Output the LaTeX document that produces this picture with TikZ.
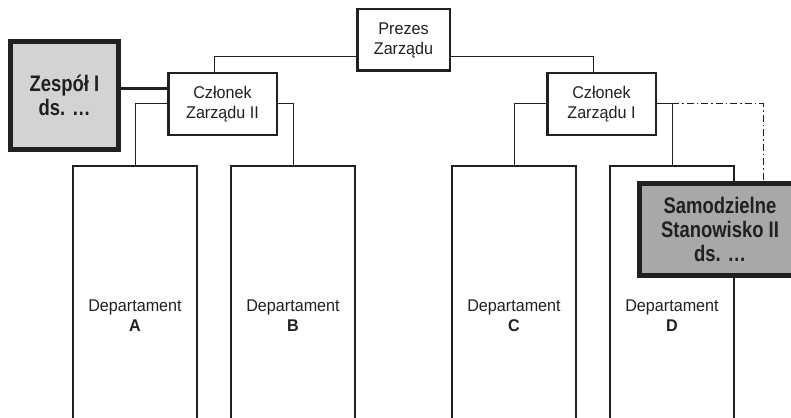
\documentclass[tikz,border=0pt]{standalone}
\usepackage{fontspec}
\setmainfont{Liberation Sans}[FakeStretch=0.95]
\newfontfamily\grubyfont{Liberation Sans}[FakeStretch=0.82]
\usetikzlibrary{calc}

\definecolor{ramka}{HTML}{231F20}
\definecolor{jasny}{HTML}{D3D3D4}
\definecolor{ciemny}{HTML}{A8A8AA}

\begin{document}
\begin{tikzpicture}[x=1pt,y=-1pt,font=\fontsize{17}{20}\selectfont,text=ramka]
\tikzset{
  pole/.style={draw=ramka,line width=2.5pt,align=center,inner sep=0pt,
    minimum width=108.5pt,minimum height=61.5pt},
  dzial/.style={draw=ramka,line width=2pt,align=center,inner sep=0pt,
    minimum width=124pt,minimum height=300pt},
  wyrozniony/.style={draw=ramka,line width=5pt,align=center,inner sep=0pt,
    font=\grubyfont\bfseries\fontsize{22.5}{24}\selectfont},
  linia/.style={draw=ramka,line width=1pt},
  gruba/.style={draw=ramka,line width=3pt},
  kreskakropka/.style={draw=ramka,line width=1pt,
    dash pattern=on 7pt off 3pt on 1.5pt off 3pt}
}

\useasboundingbox (0,0) rectangle (791,417);
\clip (0,0) rectangle (791,417);

% zarzad
\node[pole,minimum width=92.5pt] (prezes) at (403.5,40) {Prezes\\Zarządu};
\node[pole] (cz2) at (222.5,104) {Członek\\Zarządu II};
\node[pole] (cz1) at (601.5,104) {Członek\\Zarządu I};

% departamenty
\node[dzial] (dzA) at (135,316) {Departament\\\textbf{A}};
\node[dzial] (dzB) at (293,316) {Departament\\\textbf{B}};
\node[dzial] (dzC) at (514,316) {Departament\\\textbf{C}};
\node[dzial] (dzD) at (672,316) {Departament\\\textbf{D}};

% polaczenia
\draw[linia] ([yshift=-17pt]prezes.west) -| ([xshift=-8pt]cz2.north);
\draw[linia] ([yshift=-17pt]prezes.east) -| ([xshift=-8pt]cz1.north);
\draw[linia] (cz2.west) -| (dzA.north);
\draw[linia] (cz2.east) -| (dzB.north);
\draw[linia] (cz1.west) -| (dzC.north);
\draw[linia] (cz1.east) -| (dzD.north);

% komorki wyroznione
\node[wyrozniony,fill=jasny,minimum size=108pt] (zespol) at (64.5,95.5)
  {Zespół I\\ds. …};
\node[wyrozniony,fill=ciemny,minimum width=161pt,minimum height=92pt] (samo)
  at (720,229.5) {Samodzielne\\Stanowisko II\\ds. …};

\draw[gruba] ([yshift=15pt]cz2.west) -- ([yshift=15pt]cz2.west -| zespol.east);
\draw[kreskakropka] (cz1.east -| dzD.north) -| ([xshift=43pt]samo.north);
\end{tikzpicture}
\end{document}
